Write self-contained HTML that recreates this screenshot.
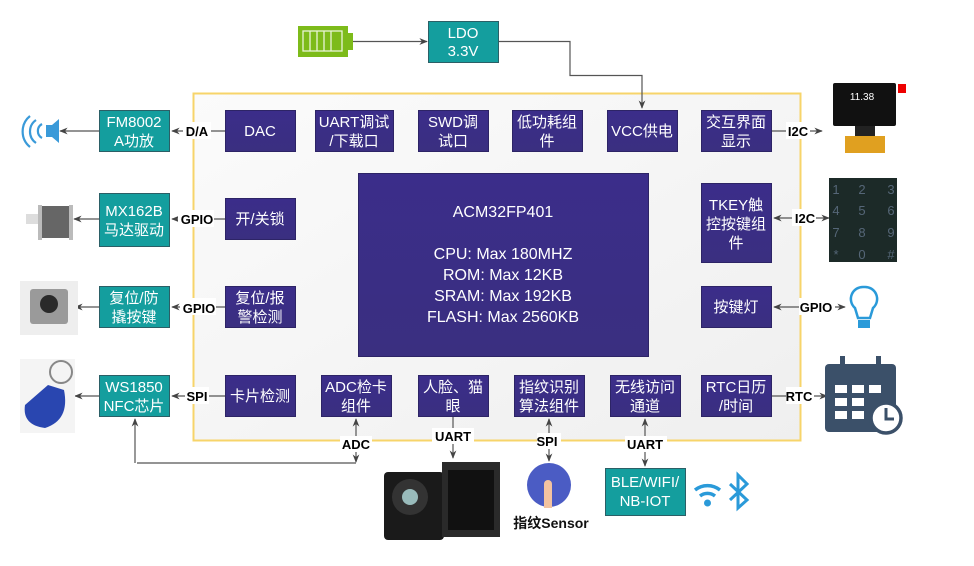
<!DOCTYPE html>
<html><head><meta charset="utf-8"><style>
body{margin:0;background:#fff}
svg text{font-family:"Liberation Sans","Noto Sans CJK SC",sans-serif}
</style></head><body>
<svg width="974" height="561" viewBox="0 0 974 561" xmlns="http://www.w3.org/2000/svg">
<defs>
<marker id="a" viewBox="0 0 10 10" refX="9" refY="5" markerWidth="7" markerHeight="7" orient="auto-start-reverse"><path d="M0,1 L10,5 L0,9 L3,5z" fill="#444"/></marker>
<linearGradient id="pg" x1="0" y1="0" x2="0" y2="1"><stop offset="0" stop-color="#3b2d8a"/><stop offset="1" stop-color="#3a2f80"/></linearGradient>
<linearGradient id="bg" x1="0" y1="0" x2="1" y2="1"><stop offset="0" stop-color="#fbfbfb"/><stop offset="1" stop-color="#efefef"/></linearGradient>
</defs>
<!-- container -->
<rect x="193.5" y="93.5" width="607" height="347" fill="url(#bg)" stroke="#f7d46a" stroke-width="2"/>
<!-- battery -->
<rect x="298" y="26" width="50" height="31" fill="#7dbb1a"/><rect x="348" y="33" width="5" height="17" fill="#7dbb1a"/>
<g fill="none" stroke="#e9f5d6" stroke-width="1.3"><rect x="303" y="31" width="39" height="20"/><path d="M310,31v20M317,31v20M324,31v20M331,31v20"/></g>
<!-- lines -->
<g stroke="#555" stroke-width="1.2" fill="none">
<path d="M353,41.5H427" marker-end="url(#a)"/>
<path d="M498,41.5H570V75.5H642V108" marker-end="url(#a)"/>
<path d="M225,131H172" marker-end="url(#a)"/>
<path d="M99,131H60" marker-end="url(#a)"/>
<path d="M225,219H172" marker-end="url(#a)"/>
<path d="M99,219H74" marker-end="url(#a)"/>
<path d="M225,307H172" marker-end="url(#a)"/>
<path d="M99,307H75" marker-end="url(#a)"/>
<path d="M225,396H172" marker-end="url(#a)"/>
<path d="M99,396H75" marker-end="url(#a)"/>
<path d="M772,131H822" marker-end="url(#a)"/>
<path d="M774,218H829" marker-start="url(#a)" marker-end="url(#a)"/>
<path d="M774,307H845" marker-start="url(#a)" marker-end="url(#a)"/>
<path d="M772,396H827" marker-end="url(#a)"/>
<path d="M356,419V462" marker-start="url(#a)" marker-end="url(#a)"/>
<path d="M356,463H137M135,463V419" marker-end="url(#a)"/>
<path d="M453,417V458" marker-end="url(#a)"/>
<path d="M549,419V461" marker-start="url(#a)" marker-end="url(#a)"/>
<path d="M645,419V466" marker-start="url(#a)" marker-end="url(#a)"/>
</g>
<!-- edge labels -->
<g font-size="13" font-weight="bold" fill="#000" text-anchor="middle">
<rect x="183" y="122" width="28" height="17" fill="#fff"/><text x="197" y="136">D/A</text>
<rect x="178" y="210" width="36" height="17" fill="#fff"/><text x="197" y="224">GPIO</text>
<rect x="180" y="298" width="36" height="17" fill="#fff"/><text x="199" y="313">GPIO</text>
<rect x="185" y="387" width="24" height="17" fill="#fff"/><text x="197" y="401">SPI</text>
<rect x="786" y="122" width="24" height="17" fill="#fff"/><text x="798" y="136">I2C</text>
<rect x="792" y="209" width="24" height="17" fill="#fff"/><text x="805" y="223">I2C</text>
<rect x="799" y="298" width="36" height="17" fill="#fff"/><text x="816" y="312">GPIO</text>
<rect x="786" y="387" width="28" height="17" fill="#fff"/><text x="799" y="401">RTC</text>
<rect x="340" y="436" width="32" height="16" fill="#fff"/><text x="356" y="449">ADC</text>
<rect x="432" y="428" width="42" height="16" fill="#fff"/><text x="453" y="441">UART</text>
<rect x="537" y="433" width="24" height="16" fill="#fff"/><text x="547" y="446">SPI</text>
<rect x="625" y="436" width="42" height="16" fill="#fff"/><text x="645" y="449">UART</text>
</g>
<!-- teal boxes -->
<g fill="#149e9e" stroke="#2b5f66" stroke-width="1">
<rect x="428.5" y="21.5" width="70" height="41"/>
<rect x="99.5" y="110.5" width="70" height="41"/>
<rect x="99.5" y="193.5" width="70" height="53"/>
<rect x="99.5" y="286.5" width="70" height="41"/>
<rect x="99.5" y="375.5" width="70" height="41"/>
<rect x="605.5" y="468.5" width="80" height="47"/>
</g>
<!-- purple boxes -->
<g fill="url(#pg)" stroke="#2d2466" stroke-width="1">
<rect x="225.5" y="110.5" width="70" height="41"/>
<rect x="315.5" y="110.5" width="78" height="41"/>
<rect x="418.5" y="110.5" width="70" height="41"/>
<rect x="512.5" y="110.5" width="70" height="41"/>
<rect x="607.5" y="110.5" width="70" height="41"/>
<rect x="701.5" y="110.5" width="70" height="41"/>
<rect x="225.5" y="198.5" width="70" height="41"/>
<rect x="225.5" y="286.5" width="70" height="41"/>
<rect x="225.5" y="375.5" width="70" height="41"/>
<rect x="321.5" y="375.5" width="70" height="41"/>
<rect x="418.5" y="375.5" width="70" height="41"/>
<rect x="514.5" y="375.5" width="70" height="41"/>
<rect x="610.5" y="375.5" width="70" height="41"/>
<rect x="701.5" y="375.5" width="70" height="41"/>
<rect x="701.5" y="183.5" width="70" height="79"/>
<rect x="701.5" y="286.5" width="70" height="41"/>
<rect x="358.5" y="173.5" width="290" height="183"/>
</g>
<g font-size="15" fill="#fff" text-anchor="middle">
<text x="463" y="38">LDO</text><text x="463" y="56">3.3V</text>
<text x="134" y="127">FM8002</text><text x="134" y="146">A功放</text>
<text x="134" y="216">MX162B</text><text x="134" y="235">马达驱动</text>
<text x="134" y="303">复位/防</text><text x="134" y="322">撬按键</text>
<text x="134" y="392">WS1850</text><text x="134" y="411">NFC芯片</text>
<text x="645" y="487">BLE/WIFI/</text><text x="645" y="506">NB-IOT</text>
<text x="260" y="136">DAC</text>
<text x="354" y="127">UART调试</text><text x="354" y="146">/下载口</text>
<text x="453" y="127">SWD调</text><text x="453" y="146">试口</text>
<text x="547" y="127">低功耗组</text><text x="547" y="146">件</text>
<text x="642" y="136">VCC供电</text>
<text x="736" y="127">交互界面</text><text x="736" y="146">显示</text>
<text x="260" y="224">开/关锁</text>
<text x="260" y="303">复位/报</text><text x="260" y="322">警检测</text>
<text x="260" y="401">卡片检测</text>
<text x="356" y="392">ADC检卡</text><text x="356" y="411">组件</text>
<text x="453" y="392">人脸、猫</text><text x="453" y="411">眼</text>
<text x="549" y="392">指纹识别</text><text x="549" y="411">算法组件</text>
<text x="645" y="392">无线访问</text><text x="645" y="411">通道</text>
<text x="736" y="392">RTC日历</text><text x="736" y="411">/时间</text>
<text x="736" y="210">TKEY触</text><text x="736" y="229">控按键组</text><text x="736" y="248">件</text>
<text x="736" y="312">按键灯</text>
<g font-size="16"><text x="503" y="217">ACM32FP401</text>
<text x="503" y="259">CPU: Max 180MHZ</text>
<text x="503" y="280">ROM: Max 12KB</text>
<text x="503" y="301">SRAM: Max 192KB</text>
<text x="503" y="322">FLASH: Max 2560KB</text></g>
</g>
<!-- speaker -->
<g fill="#3a9ad9"><path d="M46,125h6l7,-6v24l-7,-6h-6z"/></g>
<g fill="none" stroke="#3a9ad9" stroke-width="2.2"><path d="M42,124a8,8 0 0 0 0,14"/><path d="M36,120a14,14 0 0 0 0,23"/><path d="M30,116a20,20 0 0 0 0,31"/></g>
<!-- motor -->
<rect x="26" y="214" width="14" height="10" fill="#ddd"/><rect x="40" y="206" width="32" height="32" fill="#666"/><rect x="38" y="205" width="4" height="35" fill="#bbb"/><rect x="69" y="205" width="4" height="35" fill="#bbb"/>
<!-- button -->
<rect x="20" y="281" width="58" height="54" fill="#eee"/><rect x="30" y="289" width="38" height="35" fill="#9a9a9a" rx="3"/><circle cx="49" cy="304" r="9" fill="#2a2a2a"/>
<!-- keyfob -->
<rect x="20" y="359" width="55" height="74" fill="#f4f4f4"/><circle cx="61" cy="372" r="11" fill="none" stroke="#888" stroke-width="2"/><path d="M48,385 L64,390 Q70,420 45,428 Q22,425 25,405 Z" fill="#2946b0"/>
<!-- OLED -->
<rect x="833" y="83" width="63" height="43" fill="#111" rx="2"/><rect x="898" y="84" width="8" height="9" fill="#e00"/>
<text x="862" y="100" font-size="10" fill="#fff" text-anchor="middle">11.38</text>
<rect x="855" y="126" width="20" height="10" fill="#222"/><rect x="845" y="136" width="40" height="17" fill="#e0a020"/>
<!-- keypad -->
<rect x="829" y="178" width="68" height="84" fill="#1c2a28"/>
<g font-size="13" fill="#567" text-anchor="middle"><text x="836" y="194">1</text><text x="862" y="194">2</text><text x="891" y="194">3</text><text x="836" y="215">4</text><text x="862" y="215">5</text><text x="891" y="215">6</text><text x="836" y="237">7</text><text x="862" y="237">8</text><text x="891" y="237">9</text><text x="836" y="259">*</text><text x="862" y="259">0</text><text x="891" y="259">#</text></g>
<!-- bulb -->
<path d="M864,287a12,12 0 0 1 9,21l-3,10h-12l-3,-10a12,12 0 0 1 9,-21z" fill="none" stroke="#2a9ad9" stroke-width="2.5"/><rect x="858" y="320" width="12" height="8" fill="#2a9ad9"/>
<!-- calendar -->
<rect x="825" y="364" width="71" height="68" rx="4" fill="#3b5069"/>
<rect x="840" y="356" width="5" height="14" fill="#3b5069"/><rect x="876" y="356" width="5" height="14" fill="#3b5069"/>
<g fill="#fff"><rect x="835" y="385" width="12" height="8"/><rect x="852" y="385" width="12" height="8"/><rect x="869" y="385" width="12" height="8"/><rect x="835" y="398" width="12" height="8"/><rect x="852" y="398" width="12" height="8"/><rect x="835" y="411" width="12" height="8"/><rect x="852" y="411" width="12" height="8"/></g>
<circle cx="886" cy="418" r="15" fill="#fff" stroke="#3b5069" stroke-width="3.5"/><path d="M886,408v11h8" stroke="#3b5069" stroke-width="3" fill="none"/>
<!-- camera -->
<rect x="384" y="472" width="60" height="68" fill="#1a1a1a" rx="4"/><circle cx="410" cy="497" r="18" fill="#333"/><circle cx="410" cy="497" r="8" fill="#9bb"/>
<rect x="442" y="462" width="58" height="75" fill="#2a2a2a"/><rect x="448" y="470" width="46" height="60" fill="#111"/>
<!-- fingerprint -->
<circle cx="549" cy="485" r="22" fill="#4b5cc4"/><path d="M544,508 v-24 a4,4 0 0 1 8,0 v24z" fill="#f3c3a0"/>
<text x="551" y="528" font-size="14" font-weight="bold" fill="#111" text-anchor="middle">指纹Sensor</text>
<!-- wifi -->
<g fill="none" stroke="#2a9ad9" stroke-width="3.5"><path d="M695,490a20,20 0 0 1 25,0"/><path d="M700,496a12,12 0 0 1 15,0"/></g><circle cx="707.5" cy="503" r="3.5" fill="#2a9ad9"/>
<path d="M730,484 L747,500 L738,508 V475 L747,484 L730,500" fill="none" stroke="#2a9ad9" stroke-width="3"/>
</svg>
</body></html>
